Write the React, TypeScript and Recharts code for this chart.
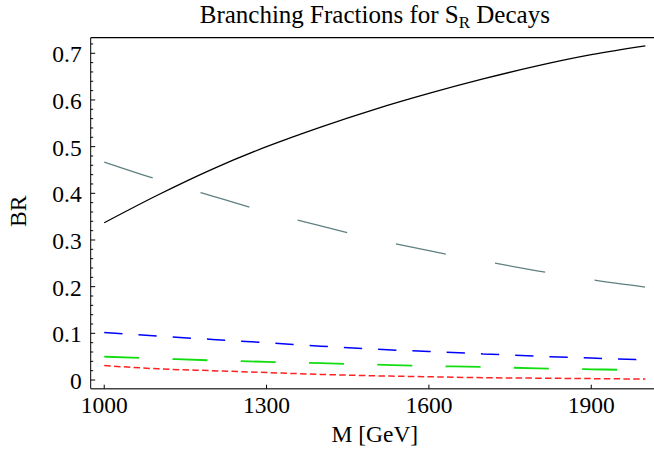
import React from "react";
import { LineChart, Line, XAxis, YAxis, Label } from "recharts";

// mass points (GeV) and branching fractions
const masses = [1000, 1100, 1200, 1300, 1400, 1500, 1600, 1700, 1800, 1900, 2000];
const brBlack = [0.337, 0.397, 0.452, 0.5, 0.542, 0.58, 0.614, 0.645, 0.673, 0.697, 0.716];
const brGray = [0.467, 0.429, 0.394, 0.36, 0.33, 0.302, 0.277, 0.255, 0.234, 0.215, 0.199];
const brBlue = [0.102, 0.094, 0.087, 0.08, 0.0725, 0.066, 0.061, 0.056, 0.051, 0.047, 0.043];
const brGreen = [0.05, 0.046, 0.042, 0.039, 0.036, 0.033, 0.03, 0.028, 0.025, 0.023, 0.021];
const brRed = [0.031, 0.024, 0.02, 0.016, 0.012, 0.009, 0.007, 0.005, 0.004, 0.003, 0.002];

const xTicks = [1000, 1300, 1600, 1900];
const yMajorTicks = [0, 0.1, 0.2, 0.3, 0.4, 0.5, 0.6, 0.7];
const yMinorTicks = [
  0.02, 0.04, 0.06, 0.08, 0.12, 0.14, 0.16, 0.18, 0.22, 0.24, 0.26, 0.28,
  0.32, 0.34, 0.36, 0.38, 0.42, 0.44, 0.46, 0.48, 0.52, 0.54, 0.56, 0.58,
  0.62, 0.64, 0.66, 0.68, 0.72,
];

const data = masses.map((m, i) => ({
  m,
  black: brBlack[i],
  gray: brGray[i],
  blue: brBlue[i],
  green: brGreen[i],
  red: brRed[i],
}));

const FONT = "'Liberation Serif', 'Times New Roman', serif";
const MARGIN = { top: 37.7, right: 6.1, bottom: 33.3, left: 10.7 };
const Y_AXIS_W = 80;
const X_AXIS_H = 30;
const CHART_W = 665;
const CHART_H = 452;
const PLOT_LEFT = MARGIN.left + Y_AXIS_W;
const PLOT_RIGHT = CHART_W - MARGIN.right;
const PLOT_BOTTOM = CHART_H - MARGIN.bottom - X_AXIS_H;
const TICK_FONT = 23.5;

const YTick = (props: any) => {
  const { y, payload } = props;
  const v = payload.value;
  const major = yMajorTicks.some((t) => Math.abs(t - v) < 1e-9);
  return (
    <g>
      <line x1={PLOT_LEFT} x2={PLOT_LEFT + (major ? 4.5 : 2.5)} y1={y} y2={y} stroke="#000" strokeWidth={1} />
      {major && (
        <text x={PLOT_LEFT - 9} y={y} dy={9} textAnchor="end" fontSize={TICK_FONT} fontFamily={FONT} fill="#000">
          {v === 0 ? "0" : v.toFixed(1)}
        </text>
      )}
    </g>
  );
};

const XTick = (props: any) => {
  const { x, payload } = props;
  return (
    <g>
      <line x1={x} x2={x} y1={PLOT_BOTTOM} y2={PLOT_BOTTOM - 4} stroke="#000" strokeWidth={1} />
      <text x={x} y={PLOT_BOTTOM + 24} textAnchor="middle" fontSize={TICK_FONT} fontFamily={FONT} fill="#000">
        {payload.value}
      </text>
    </g>
  );
};

const App = () => {
  const centerX = (PLOT_LEFT + PLOT_RIGHT) / 2;
  return (
    <div style={{ position: "absolute", left: 0, top: 0, width: 654, height: 452, overflow: "hidden", background: "#fff" }}>
      <LineChart width={CHART_W} height={CHART_H} data={data} margin={MARGIN}>
        <XAxis
          dataKey="m"
          type="number"
          domain={[975, 2025]}
          ticks={xTicks}
          interval={0}
          height={X_AXIS_H}
          tickLine={false}
          tick={<XTick />}
          axisLine={{ stroke: "#444", strokeWidth: 1.6 }}
        >
          <Label
            content={(p: any) => {
              const vb = p.viewBox;
              return (
                <text x={vb.x + vb.width / 2} y={PLOT_BOTTOM + 53} textAnchor="middle" fontSize={TICK_FONT} fontFamily={FONT} fill="#000">
                  M [GeV]
                </text>
              );
            }}
          />
        </XAxis>
        <YAxis
          type="number"
          domain={[-0.0186, 0.7334]}
          ticks={[...yMajorTicks, ...yMinorTicks]}
          interval={0}
          width={Y_AXIS_W}
          tickLine={false}
          tick={<YTick />}
          axisLine={{ stroke: "#000", strokeWidth: 1 }}
        >
          <Label
            content={(p: any) => {
              const vb = p.viewBox;
              const cy = vb.y + vb.height / 2 - 2;
              return (
                <text
                  x={18.5}
                  y={cy}
                  transform={`rotate(-90, 18.5, ${cy})`}
                  textAnchor="middle"
                  dominantBaseline="central"
                  fontSize={TICK_FONT}
                  fontFamily={FONT}
                  fill="#000"
                >
                  BR
                </text>
              );
            }}
          />
        </YAxis>

        <Line type="monotone" dataKey="black" stroke="#000" strokeWidth={1.3} dot={false} isAnimationActive={false} />
        <Line type="monotone" dataKey="gray" stroke="#5f8080" strokeWidth={1.3} strokeDasharray="51 50" dot={false} isAnimationActive={false} />
        <Line type="monotone" dataKey="blue" stroke="#0000ff" strokeWidth={1.5} strokeDasharray="18.3 16" dot={false} isAnimationActive={false} />
        <Line type="monotone" dataKey="green" stroke="#11dd11" strokeWidth={1.8} strokeDasharray="35 33.3" dot={false} isAnimationActive={false} />
        <Line type="monotone" dataKey="red" stroke="#ff2222" strokeWidth={1.5} strokeDasharray="6.5 3.3" dot={false} isAnimationActive={false} />
      </LineChart>

      {/* title and top frame edge drawn over the chart */}
      <svg width={CHART_W} height={CHART_H} style={{ position: "absolute", left: 0, top: 0, pointerEvents: "none" }}>
        <line x1={PLOT_LEFT} x2={PLOT_RIGHT} y1={MARGIN.top} y2={MARGIN.top} stroke="#000" strokeWidth={1.2} />
        <text x={centerX} y={23.3} textAnchor="middle" fontSize={25} fontFamily={FONT} fill="#000">
          Branching Fractions for S
          <tspan dy={5} fontSize={17}>R</tspan>
          <tspan dy={-5}> Decays</tspan>
        </text>
      </svg>
    </div>
  );
};

export default App;
